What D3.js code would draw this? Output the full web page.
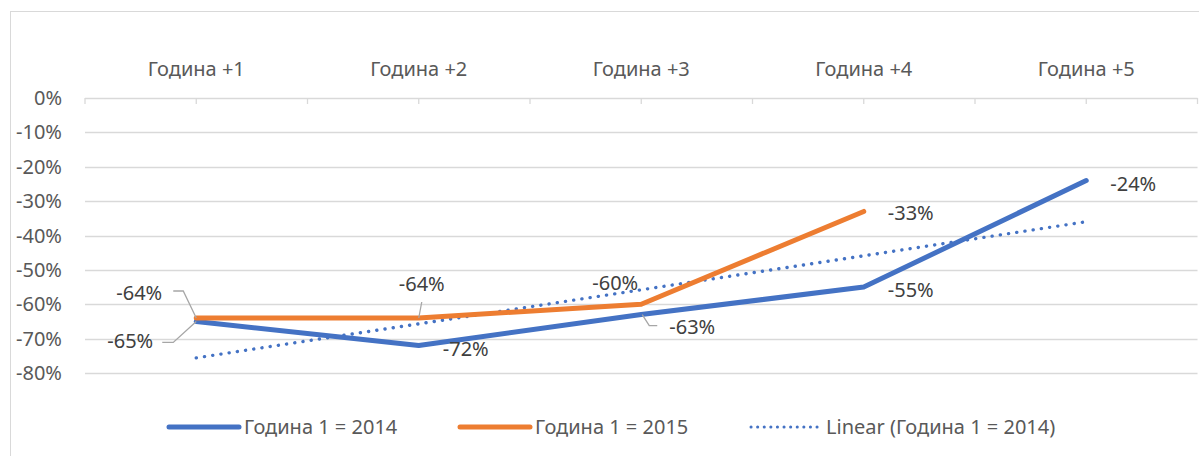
<!DOCTYPE html>
<html>
<head>
<meta charset="utf-8">
<script src="https://cdn.jsdelivr.net/npm/d3@7"></script>
<style>
  html, body { margin: 0; padding: 0; background: #fff; }
  svg { display: block; font-family: "Noto Sans", sans-serif; }
</style>
</head>
<body>
<div id="chart"></div>
<script>
// data
const categories = ["Година +1", "Година +2", "Година +3", "Година +4", "Година +5"];
const series2014 = [-0.65, -0.72, -0.63, -0.55, -0.24];
const series2015 = [-0.64, -0.64, -0.60, -0.33];
const yTicks = [0, -0.1, -0.2, -0.3, -0.4, -0.5, -0.6, -0.7, -0.8];
const legendNames = ["Година 1 = 2014", "Година 1 = 2015", "Linear (Година 1 = 2014)"];

const width = 1199, height = 456;
const blue = "#4472C4", orange = "#ED7D31";
const fontSize = 20;

const svg = d3.select("#chart").append("svg")
    .attr("width", width)
    .attr("height", height);

// chart border
svg.append("rect")
    .attr("x", 10.5).attr("y", 11.5)
    .attr("width", width + 10).attr("height", height + 10)
    .attr("fill", "none").attr("stroke", "#d9d9d9");

const x = d3.scaleBand().domain(categories).range([85, 1197.5]);
const y = d3.scaleLinear().domain([-0.8, 0]).range([373, 98]);
const cx = i => x(categories[i]) + x.bandwidth() / 2;
const pct = v => d3.format(".0%")(v).replace("−", "-");

// gridlines
svg.append("g")
    .selectAll("line")
    .data(yTicks)
    .join("line")
    .attr("x1", 85).attr("x2", 1197.5)
    .attr("y1", d => Math.round(y(d)) + 0.5)
    .attr("y2", d => Math.round(y(d)) + 0.5)
    .attr("stroke", "#d9d9d9")
    .attr("stroke-width", 1.3);

// y labels
svg.append("g")
    .selectAll("text")
    .data(yTicks)
    .join("text")
    .attr("x", 62)
    .attr("y", d => y(d))
    .attr("dy", "0.35em")
    .attr("text-anchor", "end")
    .attr("font-size", fontSize)
    .attr("fill", "#595959")
    .text(pct);

// top category axis tick marks (half-band spacing)
const tickPos = d3.range(0, categories.length * 2 + 1).map(k => 85 + k * x.bandwidth() / 2);
svg.append("g")
    .selectAll("line")
    .data(tickPos)
    .join("line")
    .attr("x1", d => d).attr("x2", d => d)
    .attr("y1", y(0)).attr("y2", y(0) + 6)
    .attr("stroke", "#d9d9d9")
    .attr("stroke-width", 1.3);

// category labels
svg.append("g")
    .selectAll("text")
    .data(categories)
    .join("text")
    .attr("x", (d, i) => cx(i))
    .attr("y", 69)
    .attr("dy", "0.35em")
    .attr("text-anchor", "middle")
    .attr("font-size", fontSize)
    .attr("fill", "#595959")
    .text(d => d);

// linear trend of the 2014 series
const xs = series2014.map((d, i) => i + 1);
const mx = d3.mean(xs), my = d3.mean(series2014);
const slope = d3.sum(xs, (v, i) => (v - mx) * (series2014[i] - my)) / d3.sum(xs, v => (v - mx) ** 2);
const trend = xs.map(v => my + slope * (v - mx));

const line = d3.line().x((d, i) => cx(i)).y(d => y(d));

svg.append("path")
    .datum(trend)
    .attr("d", line)
    .attr("fill", "none")
    .attr("stroke", blue)
    .attr("stroke-width", 3.4)
    .attr("stroke-linecap", "round")
    .attr("stroke-dasharray", "0.1 8.2");

svg.append("path")
    .datum(series2014)
    .attr("d", line)
    .attr("fill", "none")
    .attr("stroke", blue)
    .attr("stroke-width", 5)
    .attr("stroke-linecap", "round")
    .attr("stroke-linejoin", "round");

svg.append("path")
    .datum(series2015)
    .attr("d", line)
    .attr("fill", "none")
    .attr("stroke", orange)
    .attr("stroke-width", 5)
    .attr("stroke-linecap", "round")
    .attr("stroke-linejoin", "round");

// data label placement: offsets from the point, optional leader polyline (relative to point)
const place2014 = [
    { dx: -66, dy: 20, leader: [[-34, 21], [-23, 21], [0, 0]] },
    { dx: 47, dy: 3 },
    { dx: 51, dy: 12, leader: [[16, 11], [8, 11], [1, 0]] },
    { dx: 47, dy: 3 },
    { dx: 47, dy: 3 }
];
const place2015 = [
    { dx: -57, dy: -25, leader: [[-23, -27], [-13, -27], [0, 0]] },
    { dx: 3, dy: -34, leader: [[3, -16], [0, 0]] },
    { dx: -26, dy: -21 },
    { dx: 47, dy: 2 }
];

function drawLabels(values, place) {
    const g = svg.append("g");
    values.forEach((v, i) => {
        const px = cx(i), py = y(v), p = place[i];
        if (p.leader) {
            g.append("path")
                .attr("d", d3.line()(p.leader.map(([a, b]) => [px + a, py + b])))
                .attr("fill", "none")
                .attr("stroke", "#a6a6a6")
                .attr("stroke-width", 1.3);
        }
        g.append("text")
            .attr("x", px + p.dx)
            .attr("y", py + p.dy)
            .attr("dy", "0.35em")
            .attr("text-anchor", "middle")
            .attr("font-size", fontSize)
            .attr("fill", "#404040")
            .text(pct(v));
    });
}
drawLabels(series2014, place2014);
drawLabels(series2015, place2015);

// legend
const legendX = [169, 460, 751];
const legendStyles = [
    { color: blue, w: 5, dash: null },
    { color: orange, w: 5, dash: null },
    { color: blue, w: 3, dash: "0.1 6.5" }
];
const legend = svg.append("g").attr("transform", "translate(0,427)");
legendNames.forEach((name, i) => {
    const s = legendStyles[i];
    legend.append("line")
        .attr("x1", legendX[i]).attr("x2", legendX[i] + 70)
        .attr("stroke", s.color)
        .attr("stroke-width", s.w)
        .attr("stroke-linecap", "round")
        .attr("stroke-dasharray", s.dash);
    legend.append("text")
        .attr("x", legendX[i] + 75)
        .attr("dy", "0.35em")
        .attr("font-size", fontSize)
        .attr("fill", "#595959")
        .text(name);
});
</script>
</body>
</html>
